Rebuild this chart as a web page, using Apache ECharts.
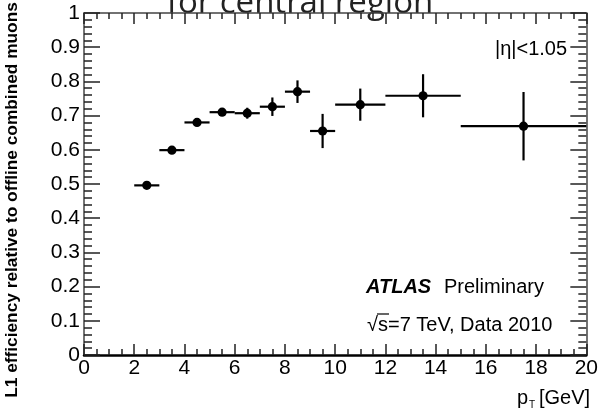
<!DOCTYPE html>
<html>
<head>
<meta charset="utf-8">
<title>L1 efficiency central region</title>
<script src="https://cdn.jsdelivr.net/npm/echarts@6/dist/echarts.min.js"></script>
<style>
html, body { margin: 0; padding: 0; background: #fff; }
#main { width: 601px; height: 413px; }
</style>
</head>
<body>
<div id="main"></div>
<script type="text/javascript">
// bins in pT [GeV]
var ptCenter = [2.5, 3.5, 4.5, 5.5, 6.5, 7.5, 8.5, 9.5, 11, 13.5, 17.5];
var ptLow    = [2, 3, 4, 5, 6, 7, 8, 9, 10, 12, 15];
var ptHigh   = [3, 4, 5, 6, 7, 8, 9, 10, 12, 15, 20];
// L1 efficiency and its error
var eff  = [0.496, 0.599, 0.680, 0.710, 0.707, 0.726, 0.770, 0.655, 0.732, 0.758, 0.669];
var errY = [0.005, 0.005, 0.006, 0.010, 0.016, 0.027, 0.033, 0.050, 0.047, 0.063, 0.100];

var font = 'Liberation Sans';
var chart = echarts.init(document.getElementById('main'));

var points = ptCenter.map(function (x, i) {
    return [x, eff[i], ptLow[i], ptHigh[i], errY[i]];
});

var tickLine = { color: '#222', width: 1.5 };

function xAx(pos) {
    return {
        type: 'value', min: 0, max: 20, interval: 2, position: pos,
        axisLine: { show: true, onZero: false, lineStyle: { color: pos == 'bottom' ? '#000' : '#444', width: pos == 'bottom' ? 2.5 : 1.5 } },
        axisTick: { show: true, inside: true, length: 11, lineStyle: tickLine },
        minorTick: { show: true, splitNumber: 4, length: 6, lineStyle: tickLine },
        axisLabel: { show: pos == 'bottom', fontSize: 21, color: '#000', fontFamily: font, margin: 3 },
        splitLine: { show: false }
    };
}
function yAx(pos) {
    return {
        type: 'value', min: 0, max: 1, interval: 0.1, position: pos,
        axisLine: { show: true, onZero: false, lineStyle: { color: '#444', width: 1.5 } },
        axisTick: { show: true, inside: true, length: 16, lineStyle: tickLine },
        minorTick: { show: true, splitNumber: 5, length: 8, lineStyle: tickLine },
        axisLabel: { show: pos == 'left', fontSize: 21, color: '#000', fontFamily: font, margin: 4 },
        splitLine: { show: false }
    };
}

var option = {
    animation: false,
    backgroundColor: '#fff',
    grid: { left: 84, right: 12, top: 13, bottom: 58 },
    xAxis: [xAx('bottom'), xAx('top')],
    yAxis: [yAx('left'), yAx('right')],
    series: [{
        type: 'custom',
        xAxisIndex: 0,
        yAxisIndex: 0,
        data: points,
        encode: { x: 0, y: 1 },
        renderItem: function (params, api) {
            var x = api.value(0), y = api.value(1), e = api.value(4);
            var l = api.coord([api.value(2), y]);
            var r = api.coord([api.value(3), y]);
            var t = api.coord([x, y + e]);
            var b = api.coord([x, y - e]);
            var c = api.coord([x, y]);
            return {
                type: 'group',
                children: [
                    { type: 'line', shape: { x1: l[0], y1: l[1], x2: r[0], y2: r[1] }, style: { stroke: '#000', lineWidth: 2.2 } },
                    { type: 'line', shape: { x1: t[0], y1: t[1], x2: b[0], y2: b[1] }, style: { stroke: '#000', lineWidth: 2.2 } },
                    { type: 'circle', shape: { cx: c[0], cy: c[1], r: 4.6 }, style: { fill: '#000' } }
                ]
            };
        }
    }],
    graphic: [
        { type: 'text', x: 300, y: 4, style: { text: 'for central region', fontSize: 33, fontFamily: 'Open Sans', fill: '#222', align: 'center', verticalAlign: 'middle' } },
        { type: 'text', x: 13, y: 200, rotation: Math.PI / 2, scaleX: 1.08, style: { text: 'L1 efficiency relative to offline combined muons', fontSize: 16, fontWeight: 'bold', fontFamily: font, fill: '#000', align: 'center', verticalAlign: 'middle' } },
        { type: 'text', x: 495, y: 49, style: { text: '|\u03b7|<1.05', fontSize: 20, fontFamily: font, fill: '#000', align: 'left', verticalAlign: 'middle' } },
        { type: 'text', x: 366, y: 287, style: { text: 'ATLAS', fontSize: 20, fontWeight: 'bold', fontStyle: 'italic', fontFamily: font, fill: '#000', align: 'left', verticalAlign: 'middle' } },
        { type: 'text', x: 444, y: 287, style: { text: 'Preliminary', fontSize: 20, fontFamily: font, fill: '#000', align: 'left', verticalAlign: 'middle' } },
        { type: 'text', x: 367, y: 325, style: { text: '\u221as=7 TeV, Data 2010', fontSize: 20, fontFamily: font, fill: '#000', align: 'left', verticalAlign: 'middle' } },
        { type: 'line', shape: { x1: 377, y1: 314, x2: 389, y2: 314 }, style: { stroke: '#000', lineWidth: 1.2 } },
        { type: 'text', x: 517, y: 398, style: { text: 'p', fontSize: 20, fontFamily: font, fill: '#000', align: 'left', verticalAlign: 'middle' } },
        { type: 'text', x: 529, y: 405, style: { text: 'T', fontSize: 10, fontFamily: font, fill: '#000', align: 'left', verticalAlign: 'middle' } },
        { type: 'text', x: 539, y: 398, style: { text: '[GeV]', fontSize: 20, fontFamily: font, fill: '#000', align: 'left', verticalAlign: 'middle' } }
    ]
};

chart.setOption(option);
</script>
</body>
</html>
